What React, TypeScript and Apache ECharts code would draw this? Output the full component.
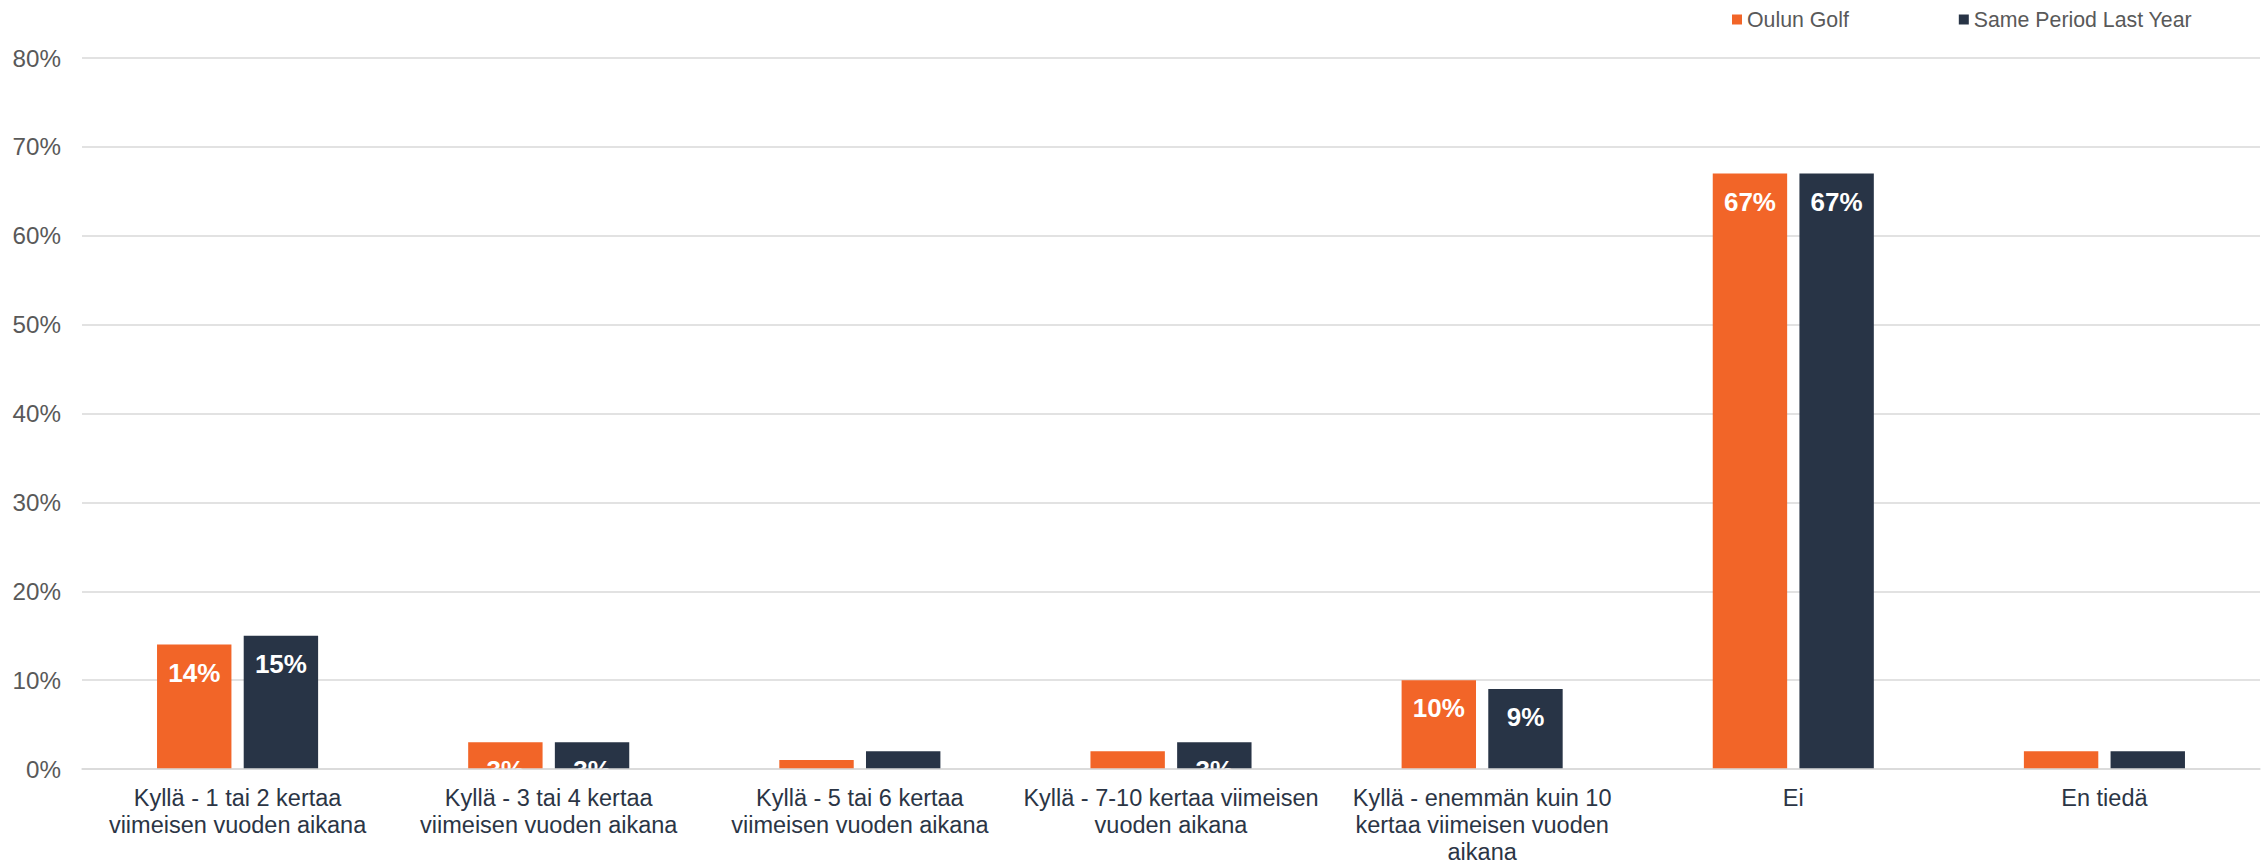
import React, { useEffect, useRef } from "react";
import * as echarts from "echarts";

const categories = [
  "Kyllä - 1 tai 2 kertaa\nviimeisen vuoden aikana",
  "Kyllä - 3 tai 4 kertaa\nviimeisen vuoden aikana",
  "Kyllä - 5 tai 6 kertaa\nviimeisen vuoden aikana",
  "Kyllä - 7-10 kertaa viimeisen\nvuoden aikana",
  "Kyllä - enemmän kuin 10\nkertaa viimeisen vuoden\naikana",
  "Ei",
  "En tiedä",
];
const oulunGolf = [14, 3, 1, 2, 10, 67, 2];
const lastYear = [15, 3, 2, 3, 9, 67, 2];
const seriesNames = ["Oulun Golf", "Same Period Last Year"];
const colors = ["#f26528", "#283446"];

const FONT = "'Liberation Sans', Arial, Helvetica, sans-serif";

export default function App() {
  const ref = useRef<HTMLDivElement>(null);
  useEffect(() => {
    document.body.style.margin = "0";
    const chart = echarts.init(ref.current!, undefined, { renderer: "svg" });
    const mk = (vals: number[]) =>
      vals.map((v) => ({ value: v, label: { show: v >= 3 } }));
    const labelStyle = {
      position: "insideTop",
      distance: 15,
      formatter: "{c}%",
      color: "#ffffff",
      fontWeight: "bold",
      fontSize: 26,
      fontFamily: FONT,
    };
    chart.setOption({
      animation: false,
      textStyle: { fontFamily: FONT },
      color: colors,
      legend: {
        left: 1727,
        top: 4,
        itemWidth: 10,
        itemHeight: 10,
        itemGap: 110,
        icon: "rect",
        textStyle: { fontFamily: FONT, fontSize: 21.3, color: "#595959" },
        data: seriesNames,
      },
      grid: { left: 82, right: 7, top: 58, bottom: 97, containLabel: false },
      xAxis: {
        type: "category",
        data: categories,
        z: 10,
        axisLine: { lineStyle: { color: "#d9d9d9", width: 1.5 } },
        axisTick: { show: false },
        axisLabel: {
          interval: 0,
          margin: 15,
          fontFamily: FONT,
          fontSize: 23.5,
          lineHeight: 27,
          color: "#2b3545",
          align: "center",
        },
      },
      yAxis: {
        type: "value",
        min: 0,
        max: 80,
        interval: 10,
        axisLine: { show: false },
        axisTick: { show: false },
        splitLine: { lineStyle: { color: "#d9d9d9", width: 1.5 } },
        axisLabel: {
          formatter: "{value}%",
          margin: 21,
          fontFamily: FONT,
          fontSize: 24.2,
          color: "#595959",
        },
      },
      series: [
        {
          name: seriesNames[0],
          type: "bar",
          barWidth: 74.4,
          barGap: "16.5%",
          data: mk(oulunGolf),
          itemStyle: { color: colors[0] },
          label: labelStyle,
        },
        {
          name: seriesNames[1],
          type: "bar",
          barWidth: 74.4,
          barGap: "16.5%",
          data: mk(lastYear),
          itemStyle: { color: colors[1] },
          label: labelStyle,
        },
      ],
    });
    return () => chart.dispose();
  }, []);
  return <div ref={ref} style={{ width: 2267, height: 866 }} />;
}
